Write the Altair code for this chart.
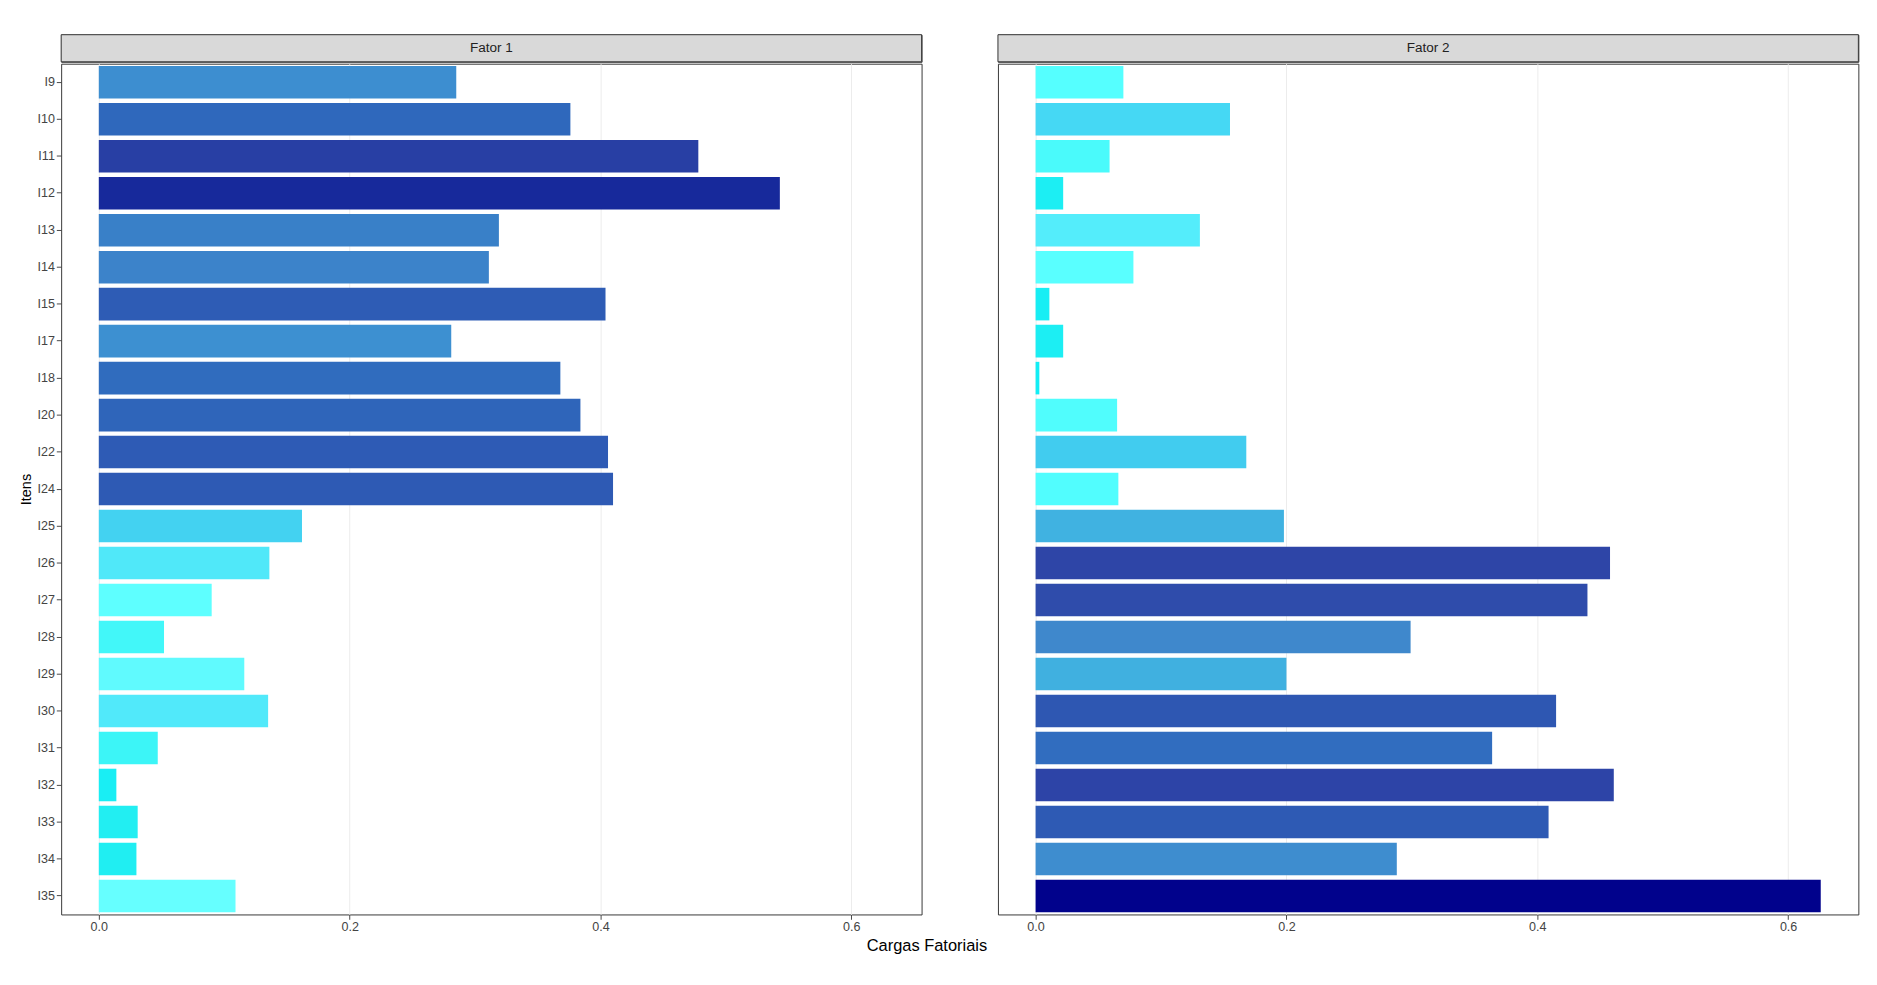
import pandas as pd
import altair as alt

items = ['I9', 'I10', 'I11', 'I12', 'I13', 'I14', 'I15', 'I17', 'I18', 'I20', 'I22', 'I24',
         'I25', 'I26', 'I27', 'I28', 'I29', 'I30', 'I31', 'I32', 'I33', 'I34', 'I35']
fator1 = [0.285, 0.376, 0.478, 0.543, 0.319, 0.311, 0.404, 0.281, 0.368, 0.384, 0.406, 0.410,
          0.162, 0.136, 0.090, 0.052, 0.116, 0.135, 0.047, 0.014, 0.031, 0.030, 0.109]
fator2 = [0.070, 0.155, 0.059, 0.022, 0.131, 0.078, 0.011, 0.022, 0.003, 0.065, 0.168, 0.066,
          0.198, 0.458, 0.440, 0.299, 0.200, 0.415, 0.364, 0.461, 0.409, 0.288, 0.626]

W, H = 890, 880
color_scale = alt.Scale(domain=[0, 0.03, 0.07, 0.11, 0.2, 0.3, 0.45, 0.63],
                        range=['#10EEF5', '#20EEF2', '#55FFFF', '#66FFFF', '#40B0E0',
                               '#3F88CC', '#3048A8', '#00008B'])


def panel(values, name, first):
    df = pd.DataFrame({'item': items, 'carga': values})
    bars = alt.Chart(df).mark_bar().encode(
        x=alt.X('carga:Q', scale=alt.Scale(domain=[-0.03, 0.656], nice=False, zero=False),
                axis=alt.Axis(values=[0, 0.2, 0.4, 0.6], format='.1f',
                              title='Cargas Fatoriais' if first else None,
                              titleX=W + 5, titleAnchor='middle', titleFontSize=17,
                              titleFontWeight='normal', titleColor='black', titlePadding=4)),
        y=alt.Y('item:N', sort=items, scale=alt.Scale(paddingInner=0.12, paddingOuter=0.06),
                axis=alt.Axis(title='Itens' if first else None, labels=first,
                              ticks=first, titleFontSize=15, titleFontWeight='normal',
                              titleColor='black')),
        color=alt.Color('carga:Q', scale=color_scale, legend=None),
    ).properties(width=W, height=H)
    head = alt.Chart(pd.DataFrame({'t': [name]})).mark_text(fontSize=14, color='#222').encode(
        text='t:N', x=alt.value(W / 2), y=alt.value(14))
    strip = alt.Chart(pd.DataFrame({'t': [name]})).mark_rect(
        fill='#D9D9D9', stroke='#333', strokeWidth=1).encode(
        x=alt.value(0), x2=alt.value(W), y=alt.value(0), y2=alt.value(28))
    header = alt.layer(strip, head).properties(width=W, height=28)
    return alt.vconcat(header, bars, spacing=0)


chart = alt.hconcat(panel(fator1, 'Fator 1', True), panel(fator2, 'Fator 2', False),
                    spacing=10).configure_view(stroke='#333', strokeWidth=1).configure_axis(
    gridColor='#EBEBEB', labelFontSize=13, labelColor='#444', domain=False,
    tickColor='#444', labelFont='Liberation Sans', titleFont='Liberation Sans'
).configure_text(font='Liberation Sans').properties(padding={'left': 10, 'top': 10, 'right': 10, 'bottom': 5})

chart.save("out.html", embed_options={"renderer": "svg", "actions": False})
